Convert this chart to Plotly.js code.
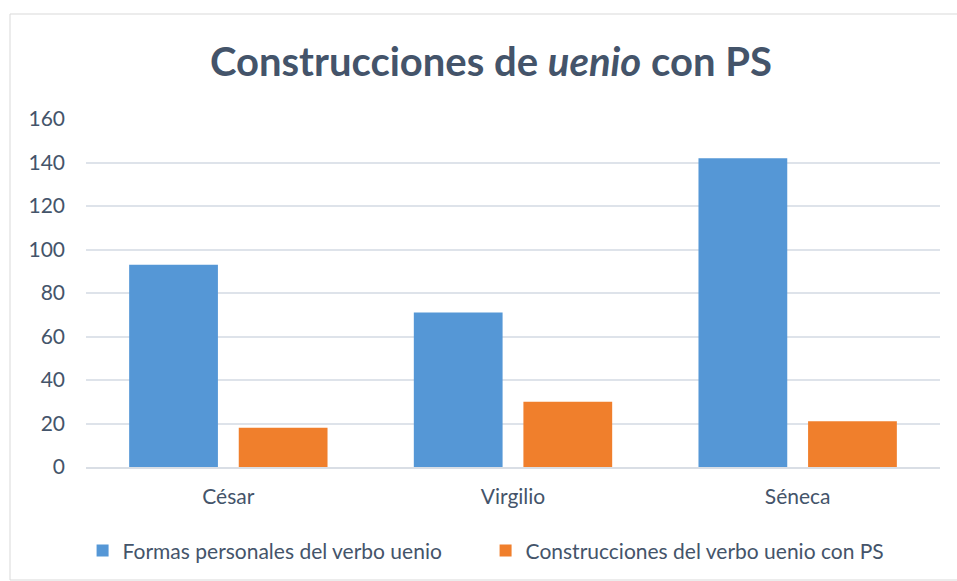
<!DOCTYPE html>
<html>
<head>
<meta charset="utf-8">
<script src="https://cdn.plot.ly/plotly-3.0.1.min.js"></script>
<style>
  html, body { margin: 0; padding: 0; background: #ffffff; }
  #chart { width: 957px; height: 581px; }
</style>
</head>
<body>
<div id="chart"></div>
<script>
const categories = ["César", "Virgilio", "Séneca"];
const seriesNames = ["Formas personales del verbo uenio", "Construcciones del verbo uenio con PS"];
const formasPersonales = [93, 71, 142];
const construccionesPS = [18, 30, 21];
const yTicks = [0, 20, 40, 60, 80, 100, 120, 140, 160];

const textColor = "#44546A";
const fontFamily = "Lato, 'Open Sans', 'Liberation Sans', sans-serif";

const traces = [
  {
    type: "bar",
    name: seriesNames[0],
    x: categories,
    y: formasPersonales,
    marker: { color: "#5597D6", line: { width: 0 } },
    hoverinfo: "x+y"
  },
  {
    type: "bar",
    name: seriesNames[1],
    x: categories,
    y: construccionesPS,
    marker: { color: "#F07F2C", line: { width: 0 } },
    hoverinfo: "x+y"
  }
];

const layout = {
  width: 957,
  height: 581,
  margin: { l: 86, r: 17, t: 119, b: 114, autoexpand: false },
  paper_bgcolor: "#ffffff",
  plot_bgcolor: "#ffffff",
  font: { family: fontFamily, color: textColor, size: 21 },
  title: {
    text: "<b>Construcciones de <i>uenio</i> con PS</b>",
    font: { family: fontFamily, size: 40, color: textColor },
    x: 0.513,
    xanchor: "center",
    y: 0.893,
    yanchor: "middle",
    xref: "container",
    yref: "container"
  },
  barmode: "group",
  bargap: 0.23,
  bargroupgap: 0.19,
  xaxis: {
    type: "category",
    showgrid: false,
    showline: true,
    linecolor: "#D9DEE5",
    linewidth: 2,
    ticks: "",
    ticklabelstandoff: 10,
    tickfont: { family: fontFamily, size: 21, color: textColor },
    fixedrange: true
  },
  yaxis: {
    range: [0, 160],
    tickvals: yTicks,
    ticktext: yTicks.map(String),
    showgrid: true,
    gridcolor: "#DEE3EA",
    gridwidth: 2,
    zeroline: false,
    showline: false,
    ticks: "",
    ticklabelstandoff: 20,
    tickfont: { family: fontFamily, size: 21, color: textColor },
    fixedrange: true
  },
  showlegend: true,
  legend: {
    orientation: "h",
    x: -0.004,
    xanchor: "left",
    y: -0.241,
    yanchor: "middle",
    font: { family: fontFamily, size: 21, color: textColor },
    itemwidth: 30,
    entrywidth: 358,
    entrywidthmode: "pixels",
    tracegroupgap: 0
  },
  shapes: [
    {
      type: "rect",
      xref: "paper",
      yref: "paper",
      x0: -76 / 854,
      x1: 960 / 854 - 86 / 854,
      y0: -113 / 348,
      y1: 1 + 105 / 348,
      line: { color: "#D9D9D9", width: 1 },
      fillcolor: "rgba(0,0,0,0)",
      layer: "below"
    }
  ]
};

Plotly.newPlot("chart", traces, layout, { displayModeBar: false, staticPlot: true });
</script>
</body>
</html>
